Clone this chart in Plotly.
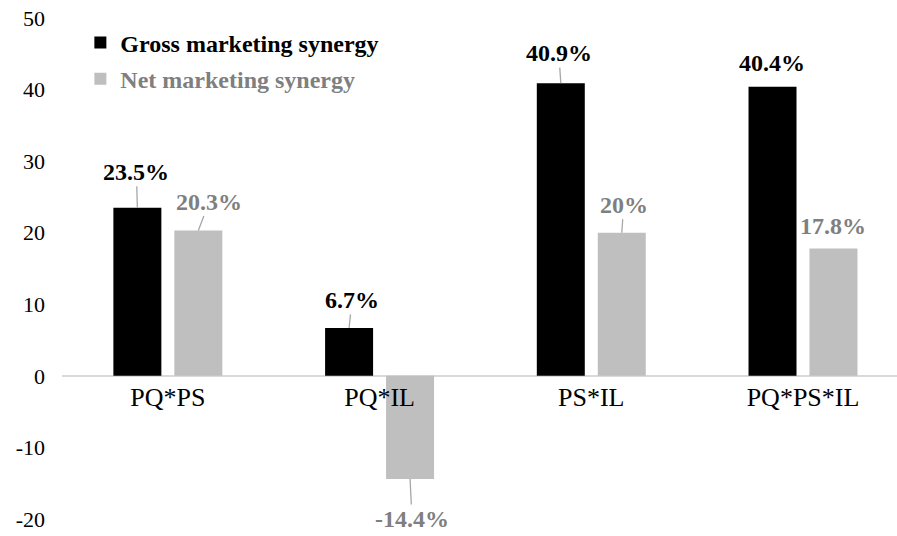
import plotly.graph_objects as go

categories = ["PQ*PS", "PQ*IL", "PS*IL", "PQ*PS*IL"]
gross_values = [23.5, 6.7, 40.9, 40.4]
net_values = [20.3, -14.4, 20.0, 17.8]
y_ticks = [-20, -10, 0, 10, 20, 30, 40, 50]

FONT = "Liberation Serif"
BLACK = "#000000"
GRAY_BAR = "#bfbfbf"
GRAY_TEXT = "#7f7f7f"
LEADER = "#a6a6a6"

BARGAP = 0.424
BARGROUPGAP = 0.213
offset = (1 - BARGAP) / 4  # centre of each bar relative to its category

fig = go.Figure()
fig.add_trace(go.Bar(
    x=categories, y=gross_values, name="<b>Gross marketing synergy</b>",
    marker=dict(color=BLACK, line=dict(width=0)), legendgroup="g",
))
fig.add_trace(go.Bar(
    x=categories, y=net_values,
    name="<span style='color:%s'><b>Net marketing synergy</b></span>" % GRAY_TEXT,
    marker=dict(color=GRAY_BAR, line=dict(width=0)), legendgroup="n",
))

# label placement (pixel offsets of label centre from bar end, leader line or not)
gross_label_pos = [(-1, -36, True), (3, -28, True), (-2, -30, True), (-1, -24, False)]
net_label_pos = [(11, -29, True), (2, 40, True), (2, -28, True), (0, -22, False)]

annotations = []
for series, pos, sign, color in [
    (gross_values, gross_label_pos, -1, BLACK),
    (net_values, net_label_pos, 1, GRAY_TEXT),
]:
    for i, (v, (dx, dy, arrow)) in enumerate(zip(series, pos)):
        xv = i + sign * offset
        common = dict(x=xv, y=v, xref="x", yref="y", text="<b>%s%%</b>" % format(v, "g"),
                      font=dict(family=FONT, size=24, color=color))
        if arrow:
            annotations.append(dict(**common, showarrow=True, ax=dx, ay=dy,
                                    arrowhead=0, arrowwidth=1.3, arrowcolor=LEADER,
                                    standoff=0, startstandoff=0))
        else:
            annotations.append(dict(**common, showarrow=False, xshift=dx, yshift=-dy))

fig.update_layout(
    width=897, height=536,
    margin=dict(l=62, r=0, t=18, b=17),
    paper_bgcolor="white", plot_bgcolor="white",
    barmode="group", bargap=BARGAP, bargroupgap=BARGROUPGAP,
    font=dict(family=FONT, size=22, color=BLACK),
    showlegend=True,
    legend=dict(x=0.022, y=0.995, xanchor="left", yanchor="top",
                bgcolor="rgba(0,0,0,0)", font=dict(family=FONT, size=24, color=BLACK),
                traceorder="grouped", tracegroupgap=2, itemwidth=30),
    annotations=annotations,
)
fig.update_xaxes(
    type="category", range=[-0.5, 3.444],
    anchor="free", position=20 / 70,
    showline=False, showgrid=False, ticks="",
    tickfont=dict(family=FONT, size=26, color=BLACK),
    ticklabelstandoff=3,
)
fig.update_yaxes(
    range=[-20, 50], tickvals=y_ticks, ticktext=[str(t) for t in y_ticks],
    showgrid=False, showline=False, ticks="",
    zeroline=True, zerolinecolor="#d9d9d9", zerolinewidth=1.5,
    tickfont=dict(family=FONT, size=22, color=BLACK),
    ticklabelstandoff=16,
)

fig.write_html("out.html", config={"displayModeBar": False},
               post_script="document.body.style.margin='0';")
